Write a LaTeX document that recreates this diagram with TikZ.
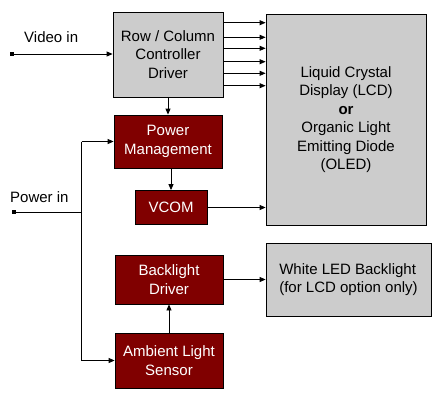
\documentclass[tikz,border=0pt]{standalone}
\usepackage{fontspec}
\setmainfont{Liberation Sans}
\usetikzlibrary{arrows.meta}
\usetikzlibrary{positioning}

\definecolor{panelgray}{RGB}{204,204,204}
\definecolor{darkred}{RGB}{128,0,0}

\begin{document}
\begin{tikzpicture}[x=1pt,y=-1pt,
  every node/.style={font=\fontsize{15}{18.5}\selectfont,align=center,inner sep=0pt},
  graybox/.style={draw=black,line width=0.8pt,fill=panelgray},
  redbox/.style={draw=black,line width=0.8pt,fill=darkred,text=white},
  link/.style={line width=0.8pt,-{Triangle[length=6pt,width=5pt]}},
  inlet/.style={line width=0.8pt,{Square[length=4pt,width=4pt]}-{Triangle[length=6pt,width=5pt]}}]

\useasboundingbox (0,0) rectangle (432,400);

\node[graybox,minimum width=110pt,minimum height=85pt] (rowcol) at (168,54.5) {Row / Column\\Controller\\Driver};
\node[graybox,minimum width=160pt,minimum height=211pt] (lcd) at (346,119.5) {Liquid Crystal\\Display (LCD)\\\textbf{or}\\Organic Light\\Emitting Diode\\(OLED)};
\node[redbox,minimum width=108pt,minimum height=53pt] (pm) at (168,141.5) {Power\\Management};
\node[redbox,minimum width=72pt,minimum height=34pt] (vcom) at (171,207.5) {VCOM};
\node[redbox,minimum width=108pt,minimum height=49pt] (bld) at (169,279.5) {Backlight\\Driver};
\node[redbox,minimum width=108pt,minimum height=55pt] (als) at (169,360.5) {Ambient Light\\Sensor};
\node[graybox,minimum width=165pt,minimum height=73pt,align=left] (wled) at (348.5,279.5) {White LED Backlight\\(for LCD option only)};

% video input
\coordinate (vin) at (10,54);
\node[anchor=west] (vinlabel) at (24,37) {Video in};
\draw[inlet] (vin) -- (vin -| rowcol.west);

% row and column lines
\foreach \y in {22.7,37.3,48.3,61.7,73.3,85.7}
  \draw[link] (rowcol.east |- 0,\y) -- (lcd.west |- 0,\y);

\draw[link] (rowcol.south) -- (pm.north);
\draw[link] (pm.south -| vcom.north) -- (vcom.north);
\draw[link] (vcom.east) -- (vcom.east -| lcd.west);
\draw[link] (bld.east) -- (wled.west);
\draw[link] (als.north) -- (bld.south);

% power input
\coordinate (pin) at (12,212);
\coordinate (pbus) at (81.5,212);
\node[anchor=west] (pinlabel) at (10,197) {Power in};
\draw[line width=0.8pt,{Square[length=4pt,width=4pt]}-] (pin) -- (pbus);
\draw[link] (pbus |- pm.west) -- (pm.west);
\draw[link] (pbus |- pm.west) -- (pbus |- als.west) -- (als.west);

\end{tikzpicture}
\end{document}
